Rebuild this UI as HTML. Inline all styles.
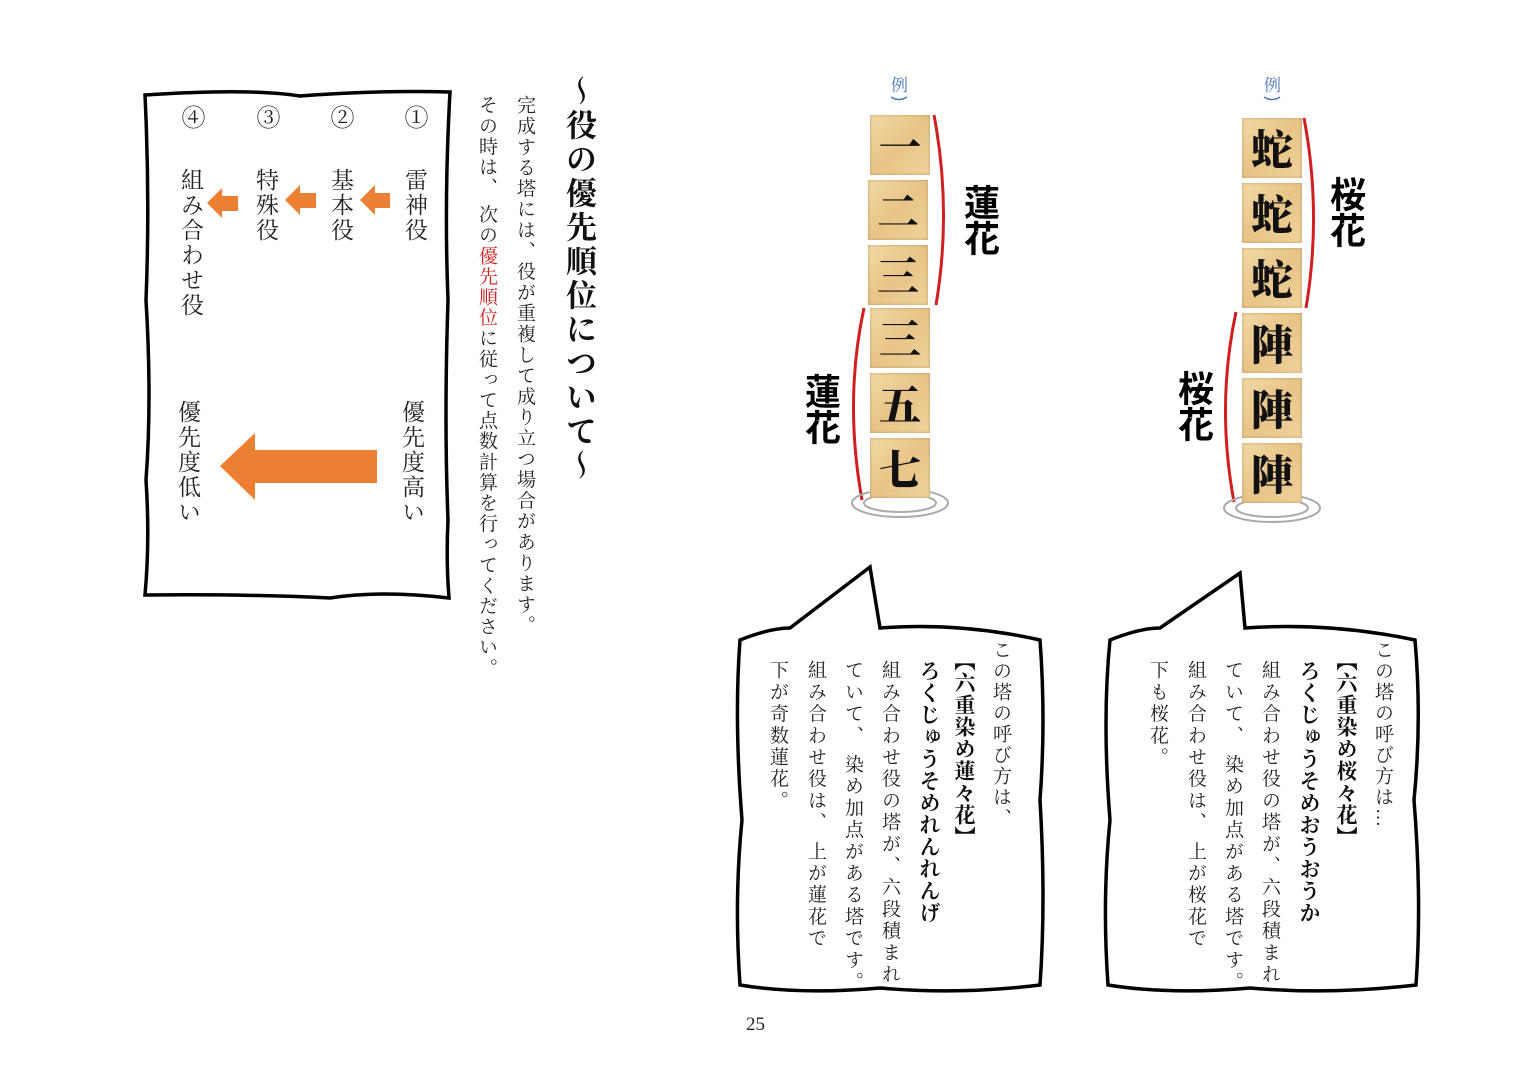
<!DOCTYPE html>
<html><head><meta charset="utf-8"><style>
body{margin:0;width:1518px;height:1075px;background:#fff;position:relative;overflow:hidden;font-family:"Liberation Serif","Noto Serif CJK SC",serif;}
.v{position:absolute;writing-mode:vertical-rl;white-space:nowrap;color:#222;line-height:1;}
.s{font-family:"Liberation Sans","Noto Sans CJK JP",sans-serif;font-weight:bold;color:#000;}
.tile{position:absolute;width:60px;height:60px;background:linear-gradient(135deg,#f3d9a6,#e8c487 50%,#f0d29c);box-shadow:inset 0 0 3px rgba(120,80,30,.4);font-family:"Noto Serif CJK SC",serif;font-weight:900;font-size:42px;line-height:60px;text-align:center;color:#111;}
</style></head><body>
<svg width="1518" height="1075" style="position:absolute;left:0;top:0">
<g fill="none" stroke="#000" stroke-width="3.5">
<path d="M145 95 Q250 88 300 96 Q380 90 450 92 Q444 200 448 300 Q444 420 448 520 Q446 560 449 598 Q380 590 330 598 Q250 594 145 595 Q150 540 146 480 Q152 400 146 300 Q150 200 145 95Z"/>
<path d="M740 640 Q770 628 790 628 L870 567 L880 628 Q960 622 1040 640 Q1046 720 1040 800 Q1046 900 1040 985 Q960 995 880 988 Q800 995 740 985 Q734 900 742 820 Q734 720 740 640Z"/>
<path d="M1110 640 Q1140 628 1160 628 L1240 573 L1245 628 Q1330 622 1415 640 Q1422 720 1414 800 Q1422 900 1416 985 Q1330 995 1250 988 Q1170 995 1108 985 Q1102 900 1110 820 Q1102 720 1110 640Z"/>
</g>
<g fill="#ec7f31">
<polygon points="360,200 375,185 375,193 390,193 390,208 375,208 375,215"/>
<polygon points="285,200 300,185 300,193 316,193 316,208 300,208 300,215"/>
<polygon points="207,203 222,188 222,196 238,196 238,211 222,211 222,218"/>
<polygon points="220,466 255,433 255,450 377,450 377,483 255,483 255,500"/>
</g>
<g fill="none" stroke="#d01f1f" stroke-width="3">
<path d="M934 115 Q952 210 936 305"/>
<path d="M864 308 Q844 400 862 500"/>
<path d="M1304 118 Q1322 213 1306 308"/>
<path d="M1236 312 Q1216 405 1234 502"/>
</g>
<g fill="none" stroke="#aaa" stroke-width="2">
<ellipse cx="900" cy="503" rx="48" ry="14"/><ellipse cx="900" cy="503" rx="36" ry="9"/>
<ellipse cx="1272" cy="508" rx="48" ry="14"/><ellipse cx="1272" cy="508" rx="36" ry="9"/>
</g>
<path d="M891 97 Q899 102 907 97" stroke="#4a77b4" fill="none" stroke-width="1.5"/>
<path d="M1264 97 Q1272 102 1280 97" stroke="#4a77b4" fill="none" stroke-width="1.5"/>
</svg>

<div class="v" style="left:401px;top:105px;font-size:24px;line-height:1">①</div>
<div class="v" style="left:327px;top:105px;font-size:24px">②</div>
<div class="v" style="left:253px;top:105px;font-size:24px">③</div>
<div class="v" style="left:178px;top:105px;font-size:24px">④</div>
<div class="v" style="left:403px;top:168px;font-size:23px;letter-spacing:2px">雷神役</div>
<div class="v" style="left:329px;top:168px;font-size:23px;letter-spacing:2px">基本役</div>
<div class="v" style="left:254px;top:168px;font-size:23px;letter-spacing:2px">特殊役</div>
<div class="v" style="left:179px;top:168px;font-size:23px;letter-spacing:2px">組み合わせ役</div>
<div class="v" style="left:400px;top:400px;font-size:23px;letter-spacing:2px">優先度高い</div>
<div class="v" style="left:176px;top:400px;font-size:23px;letter-spacing:2px">優先度低い</div>

<div class="v" style="left:563px;top:75px;font-size:31px;font-weight:bold;letter-spacing:3px;color:#111">〜役の優先順位について〜</div>
<div class="v" style="left:515px;top:95px;font-size:19px;letter-spacing:1.8px">完成する塔には、役が重複して成り立つ場合があります。</div>
<div class="v" style="left:477px;top:95px;font-size:19px;letter-spacing:1.6px">その時は、 次の<span style="color:#d02020">優先順位</span>に従って点数計算を行ってください。</div>

<div class="v" style="left:889px;top:76px;font-size:17px;color:#4a77b4">例</div>
<div class="v" style="left:1262px;top:76px;font-size:17px;color:#4a77b4">例</div>

<div class="tile" style="left:870px;top:115px">一</div>
<div class="tile" style="left:868px;top:180px">二</div>
<div class="tile" style="left:868px;top:245px">三</div>
<div class="tile" style="left:870px;top:308px">三</div>
<div class="tile" style="left:870px;top:373px">五</div>
<div class="tile" style="left:870px;top:438px">七</div>
<div class="tile" style="left:1242px;top:118px">蛇</div>
<div class="tile" style="left:1242px;top:183px">蛇</div>
<div class="tile" style="left:1242px;top:248px">蛇</div>
<div class="tile" style="left:1242px;top:313px">陣</div>
<div class="tile" style="left:1242px;top:378px">陣</div>
<div class="tile" style="left:1242px;top:443px">陣</div>

<div class="v s" style="left:961px;top:184px;font-size:36px">蓮花</div>
<div class="v s" style="left:802px;top:373px;font-size:36px">蓮花</div>
<div class="v s" style="left:1327px;top:176px;font-size:36px">桜花</div>
<div class="v s" style="left:1175px;top:370px;font-size:36px">桜花</div>

<div class="v" style="left:991px;top:640px;font-size:19px;letter-spacing:2px">この塔の呼び方は、</div>
<div class="v" style="left:953px;top:650px;font-size:21px;font-weight:bold;letter-spacing:1px;color:#111">【六重染め蓮々花】</div>
<div class="v" style="left:918px;top:660px;font-size:21px;font-weight:bold;letter-spacing:1px;color:#111">ろくじゅうそめれんれんげ</div>
<div class="v" style="left:880px;top:660px;font-size:19px;letter-spacing:2.7px">組み合わせ役の塔が、六段積まれ</div>
<div class="v" style="left:843px;top:660px;font-size:19px;letter-spacing:2.7px">ていて、 染め加点がある塔です。</div>
<div class="v" style="left:806px;top:660px;font-size:19px;letter-spacing:2.7px">組み合わせ役は、 上が蓮花で</div>
<div class="v" style="left:768px;top:660px;font-size:19px;letter-spacing:2.7px">下が奇数蓮花。</div>

<div class="v" style="left:1373px;top:640px;font-size:19px;letter-spacing:2px">この塔の呼び方は…</div>
<div class="v" style="left:1335px;top:650px;font-size:21px;font-weight:bold;letter-spacing:1px;color:#111">【六重染め桜々花】</div>
<div class="v" style="left:1298px;top:660px;font-size:21px;font-weight:bold;letter-spacing:1px;color:#111">ろくじゅうそめおうおうか</div>
<div class="v" style="left:1260px;top:660px;font-size:19px;letter-spacing:2.7px">組み合わせ役の塔が、六段積まれ</div>
<div class="v" style="left:1223px;top:660px;font-size:19px;letter-spacing:2.7px">ていて、 染め加点がある塔です。</div>
<div class="v" style="left:1186px;top:660px;font-size:19px;letter-spacing:2.7px">組み合わせ役は、 上が桜花で</div>
<div class="v" style="left:1148px;top:660px;font-size:19px;letter-spacing:2.7px">下も桜花。</div>

<div style="position:absolute;left:746px;top:1014px;font-size:19px;color:#222">25</div>
</body></html>
